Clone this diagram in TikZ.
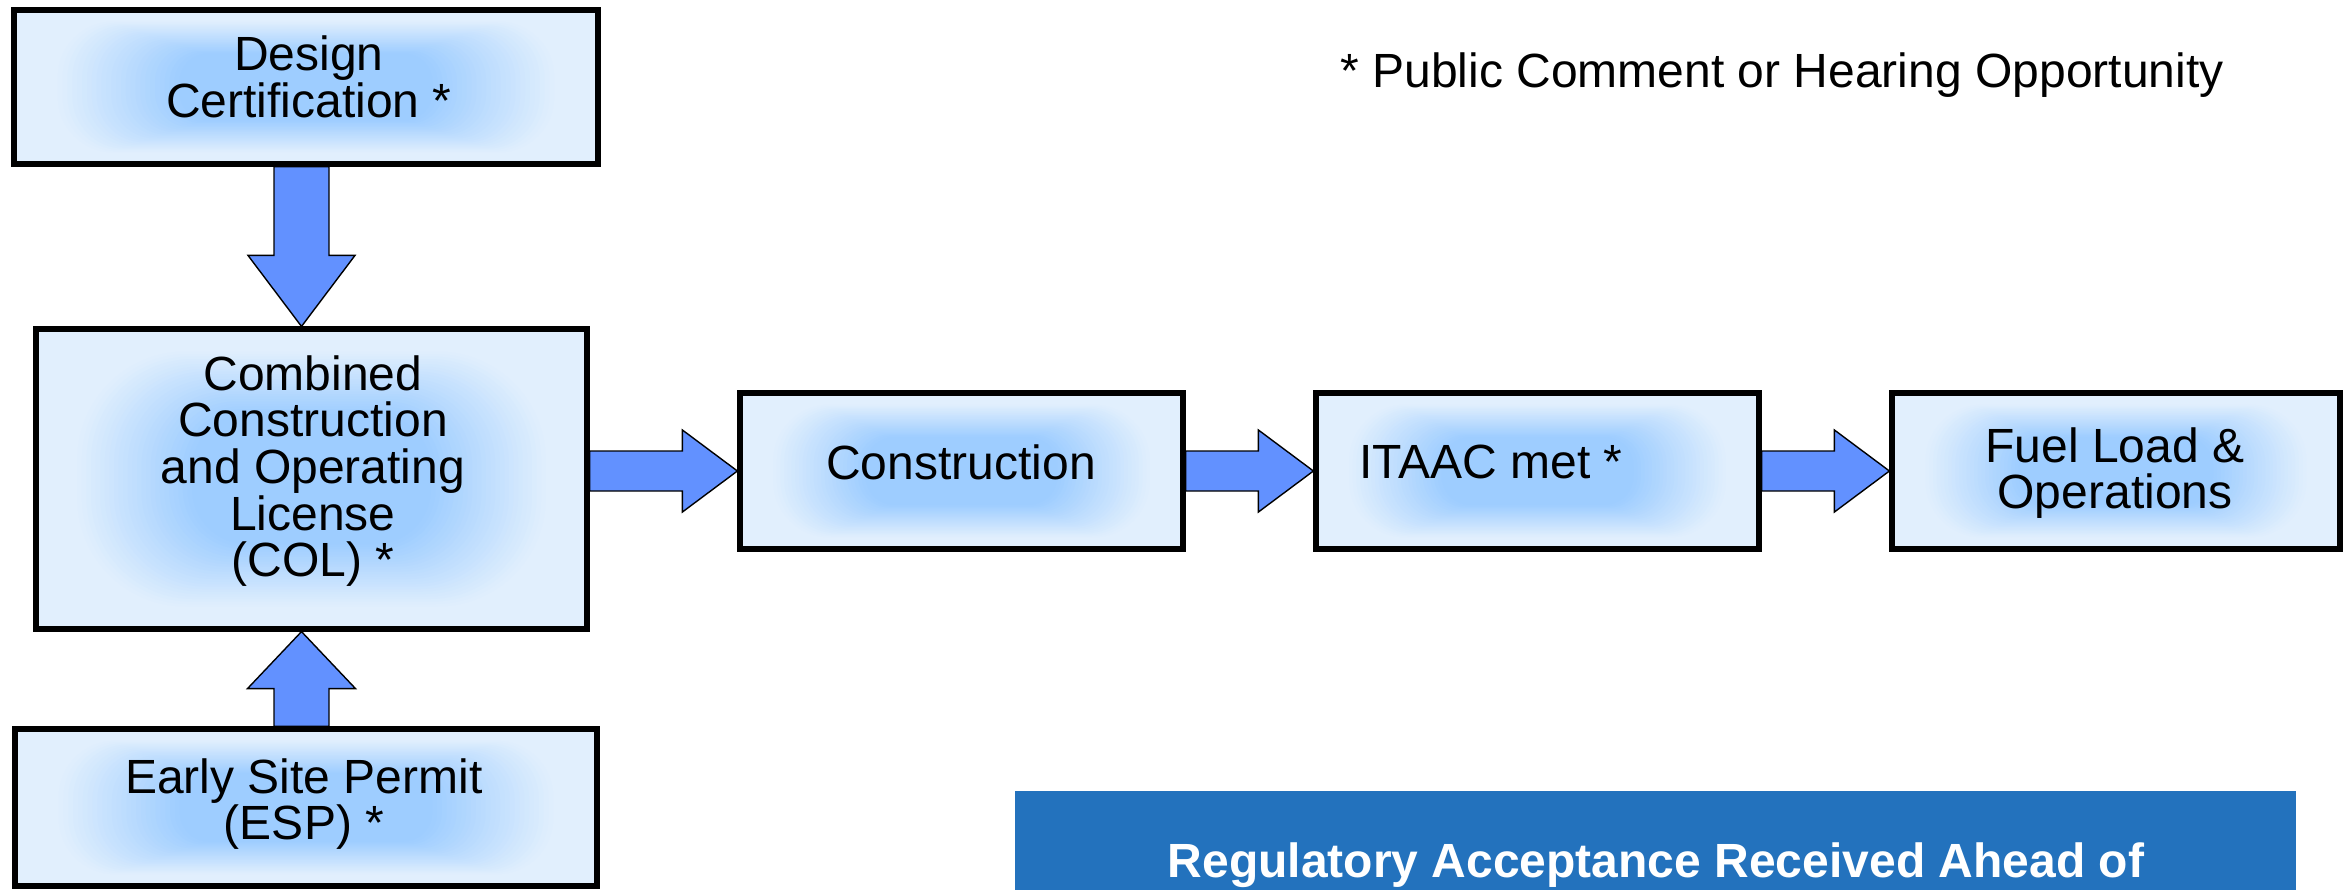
\documentclass[tikz,border=0pt]{standalone}
\usepackage{fontspec}
\setmainfont{Liberation Sans}
\usetikzlibrary{calc}

\definecolor{boxedge}{RGB}{225,239,253}
\definecolor{boxmid}{RGB}{158,205,255}
\definecolor{arrowfill}{RGB}{98,145,255}
\definecolor{bannerblue}{RGB}{35,114,189}

\pgfdeclarelayer{bg}
\pgfsetlayers{bg,main}

% fixed line pitch for the stacked labels
\newcommand\tightlines{\lineskiplimit=-100pt\relax\lineskip=0pt\relax}

% block arrow: #1 start, #2 tip, #3 shaft half width, #4 head half width, #5 head length
\newcommand\blockarrow[5]{%
  \coordinate (ba-h) at ($(#2)!#5!(#1)$);
  \filldraw[blockarrow]
    ($(#1)!#3!90:(#2)$) -- ($(ba-h)!#3!90:(#2)$) -- ($(ba-h)!#4!90:(#2)$) --
    (#2) --
    ($(ba-h)!#4!-90:(#2)$) -- ($(ba-h)!#3!-90:(#2)$) -- ($(#1)!#3!-90:(#2)$) -- cycle;}

\begin{document}
\begin{tikzpicture}[x=0.5pt,y=-0.5pt,
  stagebox/.style={draw=black, line width=2.6pt, fill=boxedge, inner sep=0pt,
    path picture={
      \path let \p1=(path picture bounding box.south west),
                \p2=(path picture bounding box.north east),
                \n1={abs(\y2-\y1)/2} in \pgfextra{\xdef\ghh{\n1}};
      \foreach \gk in {1,...,60}{
        \pgfmathsetmacro\gs{1-\gk/60}
        \pgfmathsetmacro\gp{max(0,min(100,(\gk/60-0.14)/0.42*100))}
        \fill[boxmid!\gp!boxedge, rounded corners={0.85*\gs*\ghh}]
          ($(path picture bounding box.center)!\gs!(path picture bounding box.south west)$)
          rectangle
          ($(path picture bounding box.center)!\gs!(path picture bounding box.north east)$);
      }}},
  lbl/.style={font={\fontsize{24}{23.3}\selectfont}, align=center, inner sep=0pt,
    execute at begin node={\tightlines}},
  blockarrow/.style={fill=arrowfill, draw=black, line width=0.7pt, line join=miter}
]
\useasboundingbox (0,0) rectangle (2346,890);

% stages
\node[stagebox, minimum width=292pt,   minimum height=77pt]   (dc)    at (306,87)     {};
\node[stagebox, minimum width=275.5pt, minimum height=150pt]  (col)   at (311.5,479)  {};
\node[stagebox, minimum width=291pt,   minimum height=78.5pt] (esp)   at (306,807.5)  {};
\node[stagebox, minimum width=221.5pt, minimum height=78pt]   (cons)  at (961.5,471)  {};
\node[stagebox, minimum width=221.5pt, minimum height=78pt]   (itaac) at (1537.5,471) {};
\node[stagebox, minimum width=224pt,   minimum height=78pt]   (fuel)  at (2116,471)   {};

% stage labels
\node[lbl] (dc-t)    at (309,83.4)  {Design\strut\\Certification *\strut};
\node[lbl] (col-t)   at (313,473)   {Combined\strut\\Construction\strut\\and Operating\strut\\License\strut\\(COL) *\strut};
\node[lbl] (esp-t)   at (304,806)   {Early Site Permit\strut\\(ESP) *\strut};
\node[lbl] (cons-t)  at (961,469)   {Construction\strut};
\node[lbl] (itaac-t) at (1491,469)  {ITAAC met *\strut};
\node[lbl] (fuel-t)  at (2115,475)  {Fuel Load \&\strut\\Operations\strut};

% footnote
\node[lbl] (note) at (1782,77) {* Public Comment or Hearing Opportunity\strut};

% connecting arrows
\coordinate (ax) at (301.5,0);
\begin{pgfonlayer}{bg}
  \blockarrow{dc.south -| ax}{col.north -| ax}{13.75pt}{26.75pt}{35.5pt}
  \blockarrow{esp.north -| ax}{col.south -| ax}{13.75pt}{27pt}{28.5pt}
  \blockarrow{col.east |- cons.west}{cons.west}{10pt}{20.5pt}{27.5pt}
  \blockarrow{cons.east}{itaac.west}{10pt}{20.5pt}{27.5pt}
  \blockarrow{itaac.east}{fuel.west}{10pt}{20.5pt}{27.5pt}
\end{pgfonlayer}

% banner
\node[fill=bannerblue, inner sep=0pt, minimum width=640.5pt, minimum height=49.5pt,
      anchor=north west] (banner) at (1015,791) {};
\node[font={\bfseries\fontsize{24}{23.3}\selectfont}, text=white, inner sep=0pt, anchor=base]
  (banner-t) at (1656,877) {Regulatory Acceptance Received Ahead of};
\end{tikzpicture}
\end{document}
